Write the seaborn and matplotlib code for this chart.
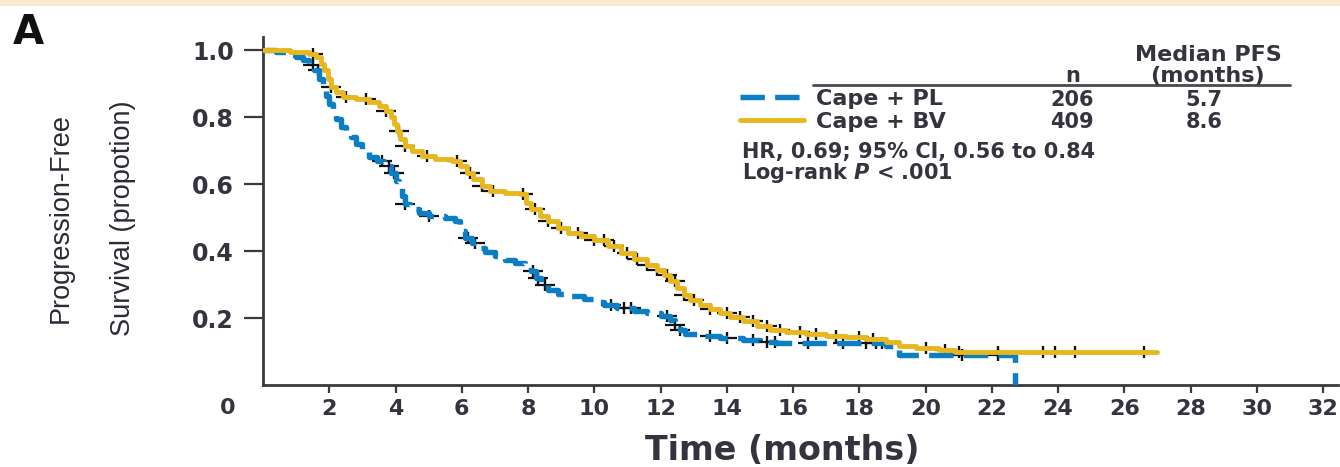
import numpy as np
import matplotlib
matplotlib.use("Agg")
import matplotlib.pyplot as plt
from matplotlib.lines import Line2D
from matplotlib.patches import Rectangle
import seaborn as sns

sns.set_style("ticks")
plt.rcParams["font.family"] = ["DejaVu Sans"]
plt.rcParams["mathtext.fontset"] = "custom"
plt.rcParams["mathtext.it"] = "DejaVu Sans:italic:bold"
plt.rcParams["mathtext.rm"] = "DejaVu Sans:bold"

# Kaplan-Meier steps (time in months, PFS proportion)
pl_time = [0, 0.4, 0.7, 1.0, 1.2, 1.4, 1.55, 1.7, 1.8, 1.9, 2.0, 2.1, 2.2, 2.35, 2.5,
           2.65, 2.8, 3.0, 3.2, 3.45, 3.65, 3.85, 4.0, 4.1, 4.2, 4.3, 4.45, 4.7, 5.0,
           5.5, 5.8, 5.95, 6.1, 6.3, 6.5, 6.7, 7.0, 7.3, 7.6, 7.9, 8.1, 8.25, 8.4, 8.6,
           8.9, 9.3, 9.7, 10.0, 10.3, 10.7, 11.2, 11.6, 12.0, 12.3, 12.45, 12.6, 12.75,
           13.2, 13.8, 14.5, 15.0, 15.5, 18.8, 19.2, 22.7]
pl_surv = [1.0, 0.995, 0.985, 0.98, 0.97, 0.955, 0.94, 0.915, 0.89, 0.865, 0.84, 0.815,
           0.795, 0.77, 0.755, 0.74, 0.72, 0.70, 0.68, 0.67, 0.655, 0.635, 0.61, 0.59,
           0.565, 0.54, 0.525, 0.515, 0.505, 0.50, 0.49, 0.46, 0.44, 0.425, 0.41, 0.398,
           0.385, 0.375, 0.365, 0.355, 0.34, 0.32, 0.30, 0.285, 0.272, 0.265, 0.257,
           0.248, 0.238, 0.23, 0.222, 0.215, 0.207, 0.195, 0.18, 0.165, 0.152, 0.146,
           0.14, 0.133, 0.128, 0.126, 0.118, 0.09, 0.0]
bv_time = [0, 0.8, 1.4, 1.6, 1.75, 1.85, 1.95, 2.05, 2.2, 2.4, 2.8, 3.2, 3.5, 3.7, 3.85,
           3.95, 4.05, 4.15, 4.3, 4.5, 4.8, 5.2, 5.7, 5.95, 6.15, 6.35, 6.6, 6.85, 7.3,
           7.75, 7.95, 8.1, 8.35, 8.6, 8.9, 9.2, 9.6, 10.0, 10.4, 10.8, 11.2, 11.6, 11.9,
           12.1, 12.3, 12.5, 12.7, 12.9, 13.2, 13.5, 13.8, 14.1, 14.5, 14.9, 15.3, 15.8,
           16.4, 17.0, 17.6, 18.2, 18.8, 19.2, 19.7, 20.4, 20.9, 27.0]
bv_surv = [1.0, 0.995, 0.99, 0.98, 0.96, 0.94, 0.915, 0.89, 0.875, 0.862, 0.855, 0.845,
           0.835, 0.82, 0.80, 0.78, 0.76, 0.735, 0.715, 0.70, 0.685, 0.675, 0.67, 0.655,
           0.635, 0.615, 0.595, 0.58, 0.575, 0.57, 0.545, 0.525, 0.505, 0.49, 0.47,
           0.455, 0.445, 0.432, 0.415, 0.395, 0.378, 0.36, 0.345, 0.33, 0.31, 0.29, 0.27,
           0.255, 0.24, 0.228, 0.215, 0.203, 0.19, 0.177, 0.165, 0.158, 0.152, 0.147,
           0.143, 0.138, 0.13, 0.118, 0.112, 0.106, 0.10, 0.10]

# censoring times
pl_censor = [1.5, 1.65, 3.6, 3.8, 3.95, 4.3, 5.0, 6.2, 6.4, 8.15, 8.3, 8.5, 10.5, 10.9,
             11.1, 12.2, 12.45, 12.6, 13.5, 14.0, 14.8, 15.2, 15.45, 16.45, 17.5, 18.2,
             18.5, 18.7, 21.1, 22.2]
bv_censor = [1.5, 2.05, 2.5, 3.1, 3.7, 4.1, 4.3, 4.95, 5.85, 6.25, 6.6, 6.95, 7.85, 8.2,
             8.6, 9.0, 9.5, 10.0, 10.3, 10.6, 11.0, 11.3, 11.6, 11.9, 12.2, 12.45, 12.7,
             13.0, 13.5, 14.0, 14.4, 14.8, 15.2, 15.6, 16.2, 16.7, 17.3, 18.0, 18.4, 20.0,
             20.6, 21.0, 22.2, 23.55, 23.9, 24.5, 26.6]

arms = ["Cape + PL", "Cape + BV"]
n_pts = ["206", "409"]
median_pfs = ["5.7", "8.6"]
x_ticks = list(range(2, 33, 2))
y_ticks = [0.2, 0.4, 0.6, 0.8, 1.0]

BLUE = "#0B7EC4"
GOLD = "#E8B71E"
TXT = "#34343f"


def step_at(t, times, surv):
    idx = np.searchsorted(times, t, side="right") - 1
    return np.asarray(surv)[idx]


W, H = 1340, 467
fig = plt.figure(figsize=(W / 100, H / 100), dpi=100)
ax = fig.add_axes([263 / W, 1 - 385 / H, (1338 - 263) / W, (385 - 37) / H])

def fx(px):
    return px / W

def fy(py):
    return 1 - py / H

# censor marks: wide horizontal dash plus short vertical tick
for cens, tt, ss in [(pl_censor, pl_time, pl_surv), (bv_censor, bv_time, bv_surv)]:
    yy = step_at(cens, tt, ss)
    sns.scatterplot(x=cens, y=yy, marker="_", s=190, color="#111111", linewidth=1.6,
                    zorder=2, ax=ax, legend=False)
    sns.scatterplot(x=cens, y=yy, marker="|", s=85, color="#111111", linewidth=1.7,
                    zorder=2, ax=ax, legend=False)

sns.lineplot(x=pl_time, y=pl_surv, drawstyle="steps-post", estimator=None, sort=False,
             color=BLUE, linewidth=3.9, linestyle=(0, (4.5, 1.9)), label=arms[0],
             zorder=3, ax=ax)
sns.lineplot(x=bv_time, y=bv_surv, drawstyle="steps-post", estimator=None, sort=False,
             color=GOLD, linewidth=3.5, label=arms[1], zorder=4, ax=ax)

ax.set_xlim(0, 32.45)
ax.set_ylim(0, 1.04)
ax.set_xticks(x_ticks)
ax.set_yticks(y_ticks)
ax.set_yticklabels([f"{v:.1f}" for v in y_ticks])
sns.despine(ax=ax)
for s in ["left", "bottom"]:
    ax.spines[s].set_linewidth(2.0)
    ax.spines[s].set_color("#3a3a3a")
ax.tick_params(axis="y", length=14, width=1.6, pad=7, labelsize=17,
               color="#3a3a3a", labelcolor=TXT)
ax.tick_params(axis="x", length=6, width=1.6, pad=4, labelsize=16,
               color="#3a3a3a", labelcolor=TXT)
plt.setp(ax.get_xticklabels() + ax.get_yticklabels(), fontweight="bold")
ax.set_xlabel("")
ax.set_ylabel("")

# origin label and axis titles
fig.text(fx(228), fy(408), "0", ha="center", va="center", fontsize=16,
         fontweight="bold", color=TXT)
fig.text(fx(782), fy(450), "Time (months)", ha="center", va="center", fontsize=24,
         fontweight="bold", color=TXT)
fig.text(fx(61), fy(218), "Progression-Free", rotation=90, ha="center", va="center",
         fontsize=19.5, family="Liberation Sans", color="#2a2a35")
fig.text(fx(123), fy(218), "Survival (propotion)", rotation=90, ha="center",
         va="center", fontsize=19.5, family="Liberation Sans", color="#2a2a35")

# panel letter and top band
fig.text(fx(13), fy(13), "A", ha="left", va="top", fontsize=29, fontweight="bold",
         color="#111111")
fig.add_artist(Rectangle((0, fy(6)), 1, 6 / H, transform=fig.transFigure,
                         facecolor="#FCEAD0", edgecolor="none"))

# legend table
leg = ax.legend(loc="upper left", bbox_to_anchor=(fx(740), fy(89)),
                bbox_transform=fig.transFigure, frameon=False, fontsize=16,
                handlelength=2.9, handletextpad=0.5, labelspacing=0.12,
                borderpad=0, borderaxespad=0)
for t in leg.get_texts():
    t.set_fontweight("bold")
    t.set_color(TXT)

fig.add_artist(Line2D([fx(813), fx(1290)], [fy(85), fy(85)], transform=fig.transFigure,
                      color="#4a4a4a", linewidth=2.0))
fig.text(fx(1208), fy(55), "Median PFS", ha="center", va="center", fontsize=16,
         fontweight="bold", color=TXT)
fig.text(fx(1207), fy(76), "(months)", ha="center", va="center", fontsize=16,
         fontweight="bold", color=TXT)
fig.text(fx(1073), fy(76), "n", ha="center", va="center", fontsize=15,
         fontweight="bold", color=TXT)
for i, py in enumerate([100, 122]):
    fig.text(fx(1072), fy(py), n_pts[i], ha="center", va="center", fontsize=15,
             fontweight="bold", color=TXT)
    fig.text(fx(1204), fy(py), median_pfs[i], ha="center", va="center", fontsize=15,
             fontweight="bold", color=TXT)
fig.text(fx(742), fy(152), "HR, 0.69; 95% CI, 0.56 to 0.84", ha="left", va="center",
         fontsize=15, fontweight="bold", color=TXT)
fig.text(fx(742), fy(173), "Log-rank $P$ < .001", ha="left", va="center",
         fontsize=15, fontweight="bold", color=TXT)

fig.savefig("out.png", dpi=100)
